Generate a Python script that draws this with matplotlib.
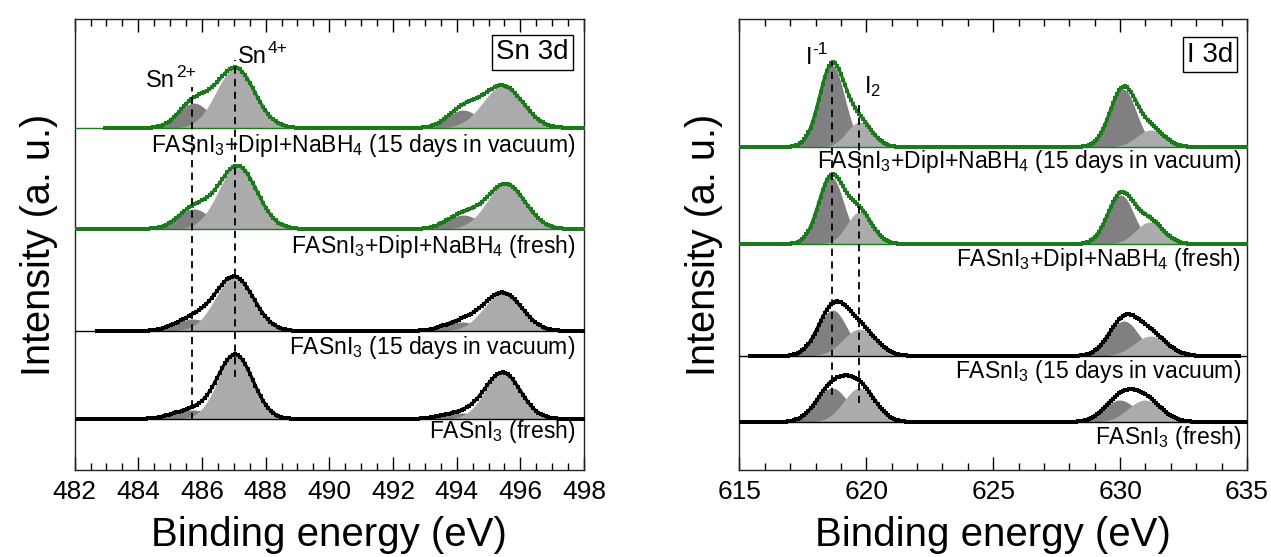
import matplotlib
matplotlib.use("Agg")
import matplotlib.pyplot as plt
from matplotlib.ticker import MultipleLocator
import numpy as np

plt.rcParams['font.family'] = ['Liberation Sans', 'DejaVu Sans']
plt.rcParams['mathtext.fontset'] = 'custom'
plt.rcParams['mathtext.rm'] = 'Liberation Sans'
plt.rcParams['mathtext.it'] = 'Liberation Sans:italic'

GREEN = '#1b7a1b'
DARK = '#808080'
LIGHT = '#ababab'

# ---- Sn 3d panel (bottom to top) ----
sn_labels = [r'FASnI$_3$ (fresh)',
             r'FASnI$_3$ (15 days in vacuum)',
             r'FASnI$_3$+DipI+NaBH$_4$ (fresh)',
             r'FASnI$_3$+DipI+NaBH$_4$ (15 days in vacuum)']
sn_colors = ['black', 'black', GREEN, GREEN]
sn_offset = [51, 139, 241, 342]
sn_start = [482.0, 482.7, 482.0, 482.95]
# components: Sn2+ 3d5/2, Sn4+ 3d5/2, Sn2+ 3d3/2, Sn4+ 3d3/2
sn_pos = [[485.7, 487.05, 494.15, 495.45],
          [485.7, 487.02, 494.15, 495.45],
          [485.75, 487.12, 494.2, 495.55],
          [485.75, 487.05, 494.2, 495.45]]
sn_amp = [[9, 64, 6, 46],
          [12, 54, 9, 38],
          [20, 63, 14, 45],
          [25, 60, 18, 42]]
sn_sig = [[0.6, 0.55, 0.6, 0.56],
          [0.55, 0.6, 0.55, 0.6],
          [0.5, 0.6, 0.5, 0.6],
          [0.48, 0.6, 0.48, 0.63]]
sn_label_y = [32, 116, 217, 318]

# ---- I 3d panel (bottom to top) ----
i_labels = sn_labels
i_colors = sn_colors
i_offset = [48, 114, 226, 323]
i_start = [615.0, 615.4, 615.0, 615.0]
i_end = [635.0, 634.7, 635.0, 635.0]
# components: I- 3d5/2, I2 3d5/2, I- 3d3/2, I2 3d3/2
i_pos = [[618.65, 619.73, 629.99, 630.97],
         [618.67, 619.73, 630.15, 631.2],
         [618.62, 619.73, 630.03, 631.16],
         [618.65, 619.73, 630.12, 631.2]]
i_amp = [[34, 34, 22, 22],
         [46, 27, 35, 20],
         [67, 32, 49, 22],
         [82, 25, 58, 17]]
i_sig = [[0.62, 0.62, 0.62, 0.65],
         [0.58, 0.65, 0.6, 0.65],
         [0.5, 0.5, 0.52, 0.55],
         [0.5, 0.5, 0.52, 0.55]]
i_label_y = [26, 92, 204, 302]

shade = [DARK, LIGHT, DARK, LIGHT]


def gauss(x, c, a, s):
    return a * np.exp(-0.5 * ((x - c) / s) ** 2)


def draw_panel(ax, xlo, xhi, offsets, starts, ends, pos, amp, sig, colors,
               labels, label_x, label_y):
    for k in range(len(offsets)):
        x = np.arange(starts[k], ends[k] + 1e-9, 0.08)
        off = offsets[k]
        total = np.zeros_like(x)
        for j in range(4):
            comp = gauss(x, pos[k][j], amp[k][j], sig[k][j])
            total += comp
            ax.fill_between(x, off, off + comp, where=comp > 0.3,
                            color=shade[j], lw=0, zorder=1 + j % 2)
        # thin background line across the full range
        ax.plot([xlo, xhi], [off, off], color=colors[k], lw=1.0, zorder=3)
        ax.plot(x, off + total, color=colors[k], lw=2.3, zorder=4,
                marker='s', ms=2.4, mew=0)
        ax.text(label_x, label_y[k], labels[k], ha='right', va='baseline',
                fontsize=16.5, zorder=6)
    ax.set_xlim(xlo, xhi)
    ax.set_ylim(0, 451)
    ax.set_yticks([])
    ax.tick_params(axis='x', which='both', direction='in', top=True,
                   bottom=True, labelsize=19, pad=7)
    ax.tick_params(axis='x', which='major', length=9.5, width=1.0)
    ax.tick_params(axis='x', which='minor', length=5, width=1.0)
    for sp in ax.spines.values():
        sp.set_linewidth(1.0)
        sp.set_color('#222222')
    ax.set_xlabel('Binding energy (eV)', fontsize=29, labelpad=9)
    ax.set_ylabel('Intensity (a. u.)', fontsize=28.5, labelpad=12)


def sup_label(ax, x, y, base, sup, ha='left'):
    t = ax.text(x, y, base, ha=ha, va='baseline', fontsize=17)
    # superscript placed just after the base text
    ax.annotate(sup, xy=(1.0, 0.0), xycoords=t, xytext=(0.5, 11),
                textcoords='offset points', ha='left', va='baseline',
                fontsize=12.5)


fig = plt.figure(figsize=(12.71, 5.57), dpi=100)
ax1 = fig.add_axes([0.0587, 0.1562, 0.4008, 0.8097])
ax2 = fig.add_axes([0.5818, 0.1562, 0.3993, 0.8097])

draw_panel(ax1, 482, 498, sn_offset, sn_start, [498] * 4, sn_pos, sn_amp,
           sn_sig, sn_colors, sn_labels, 497.72, sn_label_y)
ax1.xaxis.set_major_locator(MultipleLocator(2))
ax1.xaxis.set_minor_locator(MultipleLocator(0.5))

draw_panel(ax2, 615, 635, i_offset, i_start, i_end, i_pos, i_amp,
           i_sig, i_colors, i_labels, 634.76, i_label_y)
ax2.xaxis.set_major_locator(MultipleLocator(5))
ax2.xaxis.set_minor_locator(MultipleLocator(1))

dash = (0, (4, 3))
# Sn oxidation-state markers
ax1.plot([485.7, 485.7], [50, 383], color='black', lw=1.3, ls=dash, zorder=5)
ax1.plot([487.05, 487.05], [93, 410], color='black', lw=1.3, ls=dash, zorder=5)
sup_label(ax1, 484.25, 383, 'Sn', '2+')
sup_label(ax1, 487.12, 407, 'Sn', '4+')

# iodine species markers
ax2.plot([618.65, 618.65], [75, 408], color='black', lw=1.3, ls=dash, zorder=5)
ax2.plot([619.73, 619.73], [67, 365], color='black', lw=1.3, ls=dash, zorder=5)
sup_label(ax2, 617.6, 406, 'I', '-1')
ax2.text(619.92, 377, r'I$_2$', ha='left', va='baseline', fontsize=17)

box = dict(boxstyle='square,pad=0.15', fc='white', ec='black', lw=1.0)
ax1.text(0.9696, 0.926, 'Sn 3d', transform=ax1.transAxes, ha='right',
         va='center', fontsize=20, bbox=box, zorder=7)
ax2.text(0.9724, 0.921, 'I 3d', transform=ax2.transAxes, ha='right',
         va='center', fontsize=20, bbox=box, zorder=7)

fig.savefig('out.png', dpi=100)
